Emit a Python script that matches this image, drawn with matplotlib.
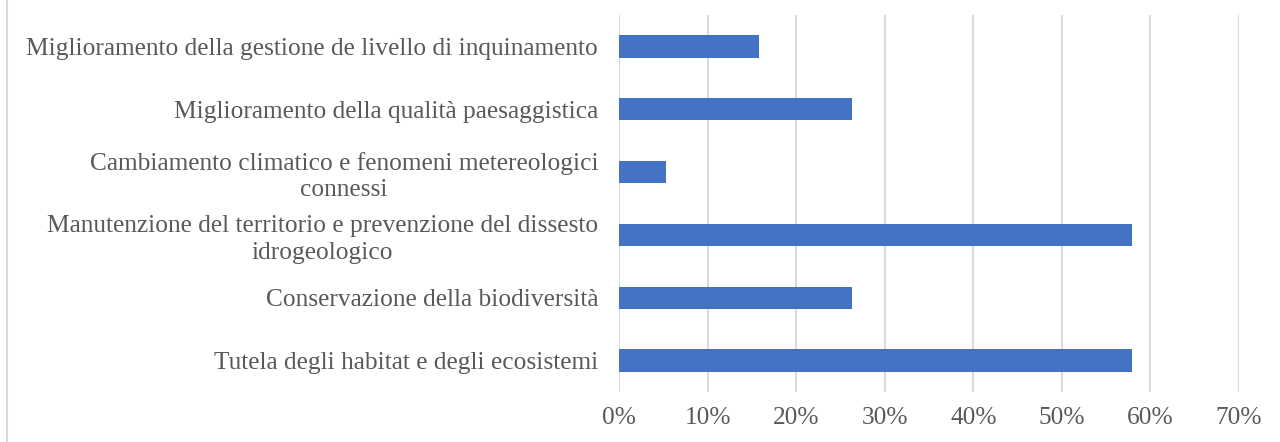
import matplotlib.pyplot as plt
from matplotlib.ticker import PercentFormatter

# Categories from bottom to top, as in the chart.
categories = [
    "Tutela degli habitat e degli ecosistemi",
    "Conservazione della biodiversità",
    "Manutenzione del territorio e prevenzione del dissesto\nidrogeologico",
    "Cambiamento climatico e fenomeni metereologici\nconnessi",
    "Miglioramento della qualità paesaggistica",
    "Miglioramento della gestione de livello di inquinamento",
]
shares = [0.579, 0.263, 0.579, 0.053, 0.263, 0.158]
x_ticks = [0, 0.1, 0.2, 0.3, 0.4, 0.5, 0.6, 0.7]

bar_color = '#4472C4'
text_color = '#595959'
grid_color = '#D9D9D9'

plt.rcParams['font.family'] = ['Liberation Serif', 'DejaVu Serif']

fig = plt.figure(figsize=(12.8, 4.42), dpi=100)
ax = fig.add_axes([619 / 1280, 1 - 392 / 442, 620 / 1280, 377 / 442])

ax.barh(range(len(categories)), shares, height=0.355, color=bar_color,
        zorder=3)

# Format plot.
ax.set_xlim(0, 0.7)
ax.set_ylim(-0.5, len(categories) - 0.5)
ax.set_xticks(x_ticks)
ax.xaxis.set_major_formatter(PercentFormatter(1.0, decimals=0))
ax.set_yticks(range(len(categories)))
ax.set_yticklabels(categories)
for lbl in ax.get_yticklabels():
    lbl.set_multialignment('center')
    lbl.set_linespacing(1.25)

ax.tick_params(axis='y', length=0, pad=15, labelsize=18.3, labelcolor=text_color)
ax.tick_params(axis='x', length=0, pad=11, labelsize=18.3, labelcolor=text_color)
ax.grid(axis='x', color=grid_color, linewidth=1.5, zorder=0)

for side in ['top', 'right', 'bottom', 'left']:
    ax.spines[side].set_visible(False)

# Chart frame on the left edge.
fig.add_artist(plt.Line2D([7 / 1280, 7 / 1280], [0, 1], color=grid_color,
                          linewidth=1.5, transform=fig.transFigure))

fig.savefig('out.png', dpi=100)
